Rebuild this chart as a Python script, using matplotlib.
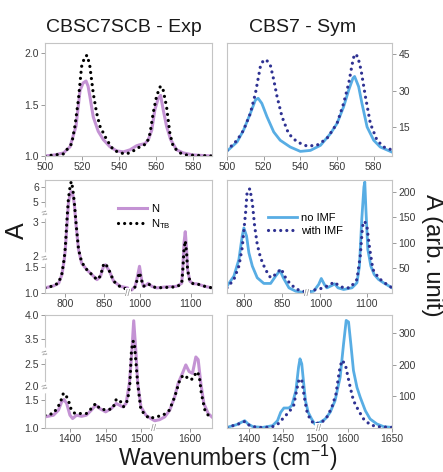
import numpy as np
import matplotlib
matplotlib.use("Agg")
import matplotlib.pyplot as plt
import matplotlib.transforms as mtrans

plt.rcParams['font.family'] = ['Liberation Sans', 'DejaVu Sans']
plt.rcParams['mathtext.fontset'] = 'custom'
plt.rcParams['mathtext.rm'] = 'Liberation Sans'
plt.rcParams['mathtext.it'] = 'Liberation Sans:italic'

# ---- data (wavenumber, absorbance) ----
# top row, 500-590 cm-1
TL_X_N = [500, 505, 510, 513.5, 516.7, 518.9, 520.5, 522.1, 523.2, 524.2, 526.0, 528.7, 531.4,
          535.0, 538.6, 542.2, 545.8, 549.4, 551.2, 553.9, 555.7, 557.5, 559.2, 561.0, 562.3,
          563.7, 565.5, 567.7, 570.9, 574.5, 579.9, 590]
TL_N = [1.00, 1.01, 1.03, 1.09, 1.29, 1.64, 1.71, 1.73, 1.68, 1.58, 1.38, 1.24, 1.16,
        1.09, 1.05, 1.04, 1.06, 1.10, 1.11, 1.12, 1.16, 1.25, 1.45, 1.56, 1.59,
        1.45, 1.29, 1.16, 1.06, 1.03, 1.01, 1.00]
TL_X_TB = [500, 505, 509.9, 514.4, 516.2, 518.0, 519.7, 521.5, 522.8, 524.2, 526.0, 527.8, 529.6,
           533.2, 536.8, 540.4, 544.0, 547.6, 551.2, 554.8, 556.6, 558.3, 560.1, 561.9, 562.6,
           563.7, 565.5, 567.3, 569.1, 572.7, 576.3, 590]
TL_TB = [1.00, 1.01, 1.02, 1.12, 1.30, 1.55, 1.87, 1.97, 1.98, 1.87, 1.61, 1.42, 1.29,
         1.16, 1.06, 1.03, 1.02, 1.05, 1.09, 1.12, 1.22, 1.42, 1.58, 1.67, 1.68,
         1.64, 1.48, 1.22, 1.09, 1.03, 1.01, 1.00]

TR_X_NO = [500, 505.5, 509, 512.7, 515.5, 517, 519, 521.8, 525.5, 529, 534.5, 540, 545.5, 551,
           556.4, 560, 563.6, 566.4, 568.7, 569.6, 571.8, 573.6, 576.4, 580, 583.6, 590]
TR_NO = [5.0, 8.8, 13.6, 20.5, 26.1, 26.8, 24.7, 19.2, 12.9, 9.5, 6.7, 4.9, 5.3, 7.4,
         12.2, 16.4, 23.3, 30.2, 35.1, 35.8, 31.6, 24.7, 15.0, 9.5, 6.7, 4.6]
TR_X_IMF = [500, 505.5, 509, 512.7, 515.5, 518.2, 520, 521.8, 523.6, 525.5, 527.3, 530, 533.6,
            538.2, 543.6, 549, 554.5, 560, 563.6, 566.4, 568.2, 569.5, 571.3, 573.1, 575.5,
            578.2, 581.8, 585.5, 590]
TR_IMF = [5.3, 9.5, 13.6, 20.5, 28.8, 39.9, 42.7, 42.3, 40.6, 34.4, 27.5, 19.2, 12.2,
          8.8, 7.1, 7.4, 10.2, 16.4, 24.7, 33.0, 40.6, 45.0, 44.1, 38.5, 27.5,
          16.4, 9.5, 6.7, 5.5]

# middle row, 775-880 | 980-1140 cm-1
ML_X = [774, 785, 791.5, 795.7, 798.7, 800, 802, 804, 806.4, 807.7, 809.5, 811.5, 814, 817, 821,
        827.8, 834, 840.6, 845, 849, 851.5, 856.8, 862, 870.5, 880, 977, 985, 991.6, 996, 1000,
        1004, 1007.7, 1014, 1017, 1024, 1033.5, 1053, 1072, 1082, 1084, 1086.5, 1089, 1091.6,
        1093.5, 1098, 1104.5, 1111, 1117.5, 1127, 1141]
ML_N = [1.10, 1.14, 1.19, 1.36, 1.65, 2.19, 2.86, 4.89, 5.56, 5.67, 5.50, 4.89, 2.86, 2.19, 1.58,
        1.45, 1.36, 1.26, 1.32, 1.52, 1.55, 1.42, 1.23, 1.13, 1.10, 1.06, 1.06, 1.13, 1.32, 1.52,
        1.26, 1.13, 1.16, 1.19, 1.13, 1.10, 1.12, 1.13, 1.19, 1.45, 2.38, 2.71, 2.19,
        1.45, 1.23, 1.18, 1.18, 1.16, 1.13, 1.10]
ML_TB = [1.10, 1.14, 1.20, 1.38, 1.68, 2.25, 3.00, 5.20, 6.10, 6.35, 5.90, 5.00, 2.90, 2.20, 1.60,
         1.45, 1.36, 1.26, 1.33, 1.55, 1.58, 1.42, 1.23, 1.12, 1.07, 1.05, 1.06, 1.12, 1.28, 1.40,
         1.25, 1.13, 1.16, 1.18, 1.13, 1.10, 1.11, 1.12, 1.18, 1.42, 2.20, 2.45, 2.10,
         1.45, 1.22, 1.18, 1.18, 1.16, 1.13, 1.10]

MR_X_NO = [778, 787, 793.5, 797.8, 800, 803.5, 806.5, 811, 817.4, 826, 834.8, 841.3, 847, 851.3,
           858.7, 867.4, 882, 971, 985.7, 996.4, 1002, 1008.6, 1014, 1025, 1030.7, 1037.9, 1050,
           1068, 1078.6, 1084, 1089, 1093.6, 1095.5, 1097.9, 1102, 1108.6, 1115.7, 1125, 1135.7, 1154]
MR_NO = [13.6, 33.5, 66.5, 112.8, 129, 112.8, 79.7, 53.3, 30.2, 19, 19, 33.5, 44.7, 30.2,
         10.3, 3.7, 0.4, 1.7, 3.7, 17, 28.8, 17, 10.3, 15, 18.3, 10.3, 7,
         10.3, 20.3, 53.3, 145.8, 210, 220, 165.7, 86.4, 53.3, 36.8, 26.9, 20.3, 10.3]
MR_X_IMF = [778, 787, 793.5, 797.8, 802.2, 804.3, 807.8, 811, 814, 817.4, 821.7, 828, 834.8, 841.3,
            848.5, 854.3, 860.9, 869.6, 882, 971, 992.9, 1007, 1021, 1030, 1039, 1050, 1064,
            1078.6, 1085.7, 1090.7, 1095, 1100, 1105.7, 1112.9, 1125, 1135.7, 1154]
MR_IMF = [10.3, 26.9, 53.3, 89.7, 159, 202, 206.6, 178.9, 132.6, 96.3, 69.8, 46.7, 30.2, 36.8,
          48, 30.2, 17, 7, 1.7, 3.7, 7, 10.3, 17, 21.6, 15, 10.3, 10.3,
          26.9, 73.1, 132.6, 142.5, 132.6, 89.7, 46.7, 30.2, 21.6, 10.3]

# bottom row, 1365-1517 | 1560-1650 cm-1
BL_X_N = [1365, 1376.9, 1383.8, 1388.4, 1391.7, 1395.4, 1400, 1403.7, 1409.3, 1416.2, 1423, 1430,
          1436, 1441.7, 1450, 1458, 1464.8, 1469.4, 1474, 1478.7, 1483.3, 1486.6, 1489.4, 1492.6,
          1495, 1499.5, 1506.5, 1513.4, 1560.5, 1566, 1571.8, 1577.4, 1583, 1586.8, 1591.7,
          1595.5, 1599.2, 1603, 1606.8, 1609.4, 1612.4, 1615.8, 1620.7, 1624.8]
BL_N = [1.20, 1.23, 1.32, 1.47, 1.51, 1.44, 1.23, 1.17, 1.23, 1.21, 1.23, 1.32,
        1.41, 1.35, 1.29, 1.35, 1.44, 1.41, 1.38, 1.44, 2.06, 2.95, 3.88, 2.95,
        2.06, 1.38, 1.23, 1.17, 1.13, 1.15, 1.20, 1.32, 1.56, 2.06, 2.29,
        2.48, 2.33, 2.29, 2.66, 2.60, 2.06, 1.44, 1.26, 1.20]
BL_X_TB = [1365, 1376.9, 1386, 1390.7, 1393, 1397.7, 1402, 1407, 1414, 1423, 1430, 1436, 1441.7,
           1451, 1460, 1464.8, 1469.4, 1475, 1481, 1484, 1486, 1488, 1490, 1491.7, 1495, 1499.5,
           1506.5, 1511, 1562, 1570, 1577, 1583, 1588.7, 1592.5, 1596, 1600, 1603.8, 1607.5,
           1610.5, 1613, 1617, 1620.7, 1624.8]
BL_TB = [1.23, 1.26, 1.44, 1.62, 1.62, 1.50, 1.32, 1.26, 1.26, 1.26, 1.35, 1.44, 1.35,
         1.32, 1.35, 1.51, 1.51, 1.38, 1.50, 2.06, 2.95, 3.45, 3.45, 2.70, 2.06, 1.32,
         1.23, 1.17, 1.20, 1.23, 1.32, 1.56, 2.14, 2.25, 2.21, 2.14, 2.17, 2.33,
         2.25, 1.62, 1.32, 1.23, 1.17]

BR_X_NO = [1368, 1382, 1392, 1394, 1399, 1406, 1420.5, 1434.8, 1442, 1446.7, 1451.4, 1458.6, 1463,
           1469, 1472.9, 1475, 1477.6, 1480, 1483, 1487, 1492, 1496.7, 1568, 1573.7, 1579.4, 1585,
           1590.8, 1594.7, 1597.7, 1600.4, 1603, 1606, 1610, 1613.7, 1619.5, 1625, 1632.8, 1640.5, 1650]
BR_NO = [2, 10.5, 21, 23, 12.6, 4.2, 2, 7.4, 23, 49.5, 63, 63, 70.5,
         118, 191.6, 218, 202, 149.5, 86.3, 49.5, 28.4, 12.6, 18, 28.4, 49.5, 86.3,
         160, 265, 339, 334, 265, 181, 128, 97, 55, 28.4, 12.6, 4.2, 2]
BR_X_IMF = [1368, 1382, 1392, 1394, 1399, 1406, 1420.5, 1434.8, 1444, 1451.4, 1458.6, 1465.7, 1470.5,
            1473.8, 1477.6, 1481.4, 1484.8, 1489.5, 1495.7, 1570, 1575.6, 1581.3, 1586, 1590,
            1592.7, 1596.6, 1599, 1602.3, 1606, 1611.8, 1617.6, 1625, 1632.8, 1650]
BR_IMF = [2, 10.5, 18, 21, 10.5, 4.2, 1, 4.2, 14.7, 33.7, 49.5, 70.5, 123,
          155, 149.5, 97, 55, 28.4, 12.6, 18, 33.7, 65, 107, 181,
          213, 202, 170.5, 128.4, 86.3, 55, 28.4, 10.5, 4.2, 2]

PURPLE = '#c493d4'
BLUE = '#58ade4'
NAVY = '#2e3192'
SPINE = '#c4c4c4'


def broken(xp, fp):
    """piecewise linear scale, flat parts of fp are the axis breaks"""
    xp = np.asarray(xp, float)
    fp = np.asarray(fp, float)
    return (lambda v: np.interp(v, xp, fp), lambda v: np.interp(v, fp, xp))


def style(ax, right=False):
    for s in ax.spines.values():
        s.set_color(SPINE)
        s.set_linewidth(0.8)
    ax.tick_params(direction='out', length=3, width=0.7, color='#9a9a9a',
                   labelsize=7.5, labelcolor='#3a3a3a', pad=1.5)
    if right:
        ax.yaxis.tick_right()


def xbreak(ax, xv):
    tr = mtrans.blended_transform_factory(ax.transData, ax.transAxes)
    ax.text(xv, 0, '//', transform=tr, ha='center', va='center', fontsize=6.5,
            color='#8a8a8a', bbox=dict(fc='white', ec='none', pad=0.4), clip_on=False, zorder=5)


def ybreak(ax, yv):
    tr = mtrans.blended_transform_factory(ax.transAxes, ax.transData)
    ax.text(0, yv, '≈', transform=tr, ha='center', va='center', fontsize=7, rotation=20,
            color='#8a8a8a', bbox=dict(fc='white', ec='none', pad=0.2), clip_on=False, zorder=5)


dots = dict(linestyle=(0, (0.01, 1.9)), dash_capstyle='round', linewidth=2.3)

fig = plt.figure(figsize=(4.43, 4.72), dpi=100)
LX, RX = 0.1016, 0.5124
ROWS = [0.6695, 0.3792, 0.0932]
H = 0.2394

# top row
ax = fig.add_axes([LX, ROWS[0], 0.377, H])
ax.plot(TL_X_N, TL_N, color=PURPLE, lw=2.2)
ax.plot(TL_X_TB, TL_TB, color='black', **dots)
ax.set_xlim(500, 590)
ax.set_ylim(1.0, 2.1)
ax.set_xticks([500, 520, 540, 560, 580])
ax.set_yticks([1.0, 1.5, 2.0])
style(ax)

ax = fig.add_axes([RX, ROWS[0], 0.3725, H])
ax.plot(TR_X_NO, TR_NO, color=BLUE, lw=2.0)
ax.plot(TR_X_IMF, TR_IMF, color=NAVY, **dots)
ax.set_xlim(500, 590)
ax.set_ylim(3, 49.6)
ax.set_xticks([500, 520, 540, 560, 580])
ax.set_yticks([15, 30, 45])
style(ax, right=True)

# middle row
ax = fig.add_axes([LX, ROWS[1], 0.377, H])
ax.set_xscale('function', functions=broken([774, 880, 977, 1141], [0, 0.495, 0.495, 1]))
ax.set_yscale('function', functions=broken([1.0, 1.68, 1.95, 3.24, 4.22, 6.45],
                                           [0, 0.309, 0.309, 0.706, 0.706, 1.0]))
ax.plot(ML_X, ML_N, color=PURPLE, lw=2.2, label='N')
ax.plot(ML_X, ML_TB, color='black', label='N$_{\\mathrm{TB}}$', **dots)
ax.set_xlim(774, 1141)
ax.set_ylim(1.0, 6.45)
ax.set_xticks([800, 850, 1000, 1100])
ax.set_yticks([1.0, 1.5, 2, 3, 5, 6])
ax.set_yticklabels(['1.0', '1.5', '2', '3', '5', '6'])
style(ax)
xbreak(ax, 880)
ybreak(ax, 1.68)
ybreak(ax, 3.24)
ax.legend(loc='upper left', bbox_to_anchor=(0.44, 0.79), frameon=False, fontsize=8,
          handlelength=2.6, handletextpad=0.35, labelspacing=0.3, borderpad=0, borderaxespad=0)

ax = fig.add_axes([RX, ROWS[1], 0.3725, H])
ax.set_xscale('function', functions=broken([778, 882, 971, 1154], [0, 0.484, 0.484, 1]))
ax.plot(MR_X_NO, MR_NO, color=BLUE, lw=2.0, label='no IMF')
ax.plot(MR_X_IMF, MR_IMF, color=NAVY, label='with IMF', **dots)
ax.set_xlim(778, 1154)
ax.set_ylim(0, 224)
ax.set_xticks([800, 850, 1000, 1100])
ax.set_yticks([50, 100, 150, 200])
style(ax, right=True)
xbreak(ax, 882)
ax.legend(loc='upper left', bbox_to_anchor=(0.25, 0.71), frameon=False, fontsize=8,
          handlelength=2.6, handletextpad=0.35, labelspacing=0.3, borderpad=0, borderaxespad=0)

# bottom row
ax = fig.add_axes([LX, ROWS[2], 0.377, H])
ax.set_xscale('function', functions=broken([1365, 1517, 1559, 1625], [0, 0.649, 0.649, 1]))
ax.set_yscale('function', functions=broken([1.0, 1.72, 1.96, 2.74, 3.2, 4.0],
                                           [0, 0.355, 0.355, 0.66, 0.66, 1.0]))
ax.plot(BL_X_N, BL_N, color=PURPLE, lw=2.2)
ax.plot(BL_X_TB, BL_TB, color='black', **dots)
ax.set_xlim(1365, 1625)
ax.set_ylim(1.0, 4.0)
ax.set_xticks([1400, 1450, 1500, 1600])
ax.set_yticks([1.0, 1.5, 2.0, 2.5, 3.5, 4.0])
style(ax)
xbreak(ax, 1517)
ybreak(ax, 1.72)
ybreak(ax, 2.74)

ax = fig.add_axes([RX, ROWS[2], 0.3725, H])
ax.set_xscale('function', functions=broken([1368, 1502, 1566, 1650], [0, 0.554, 0.554, 1]))
ax.plot(BR_X_NO, BR_NO, color=BLUE, lw=2.0)
ax.plot(BR_X_IMF, BR_IMF, color=NAVY, **dots)
ax.set_xlim(1368, 1650)
ax.set_ylim(0, 356)
ax.set_xticks([1400, 1450, 1500, 1600, 1650])
ax.set_yticks([100, 200, 300])
style(ax, right=True)
xbreak(ax, 1502)

# titles and axis labels
fig.text(0.279, 0.932, 'CBSC7SCB - Exp', ha='center', va='baseline', fontsize=14, color='#1a1a1a')
fig.text(0.682, 0.932, 'CBS7 - Sym', ha='center', va='baseline', fontsize=14, color='#1a1a1a')
fig.text(0.513, 0.012, 'Wavenumbers (cm$^{-1}$)', ha='center', va='baseline', fontsize=16.5,
         color='#1a1a1a')
fig.text(0.038, 0.511, 'A', ha='center', va='center', rotation=90, fontsize=18, color='#1a1a1a')
fig.text(0.975, 0.46, 'A (arb. unit)', ha='center', va='center', rotation=-90, fontsize=17,
         color='#1a1a1a')

fig.savefig('out.png', dpi=100)
